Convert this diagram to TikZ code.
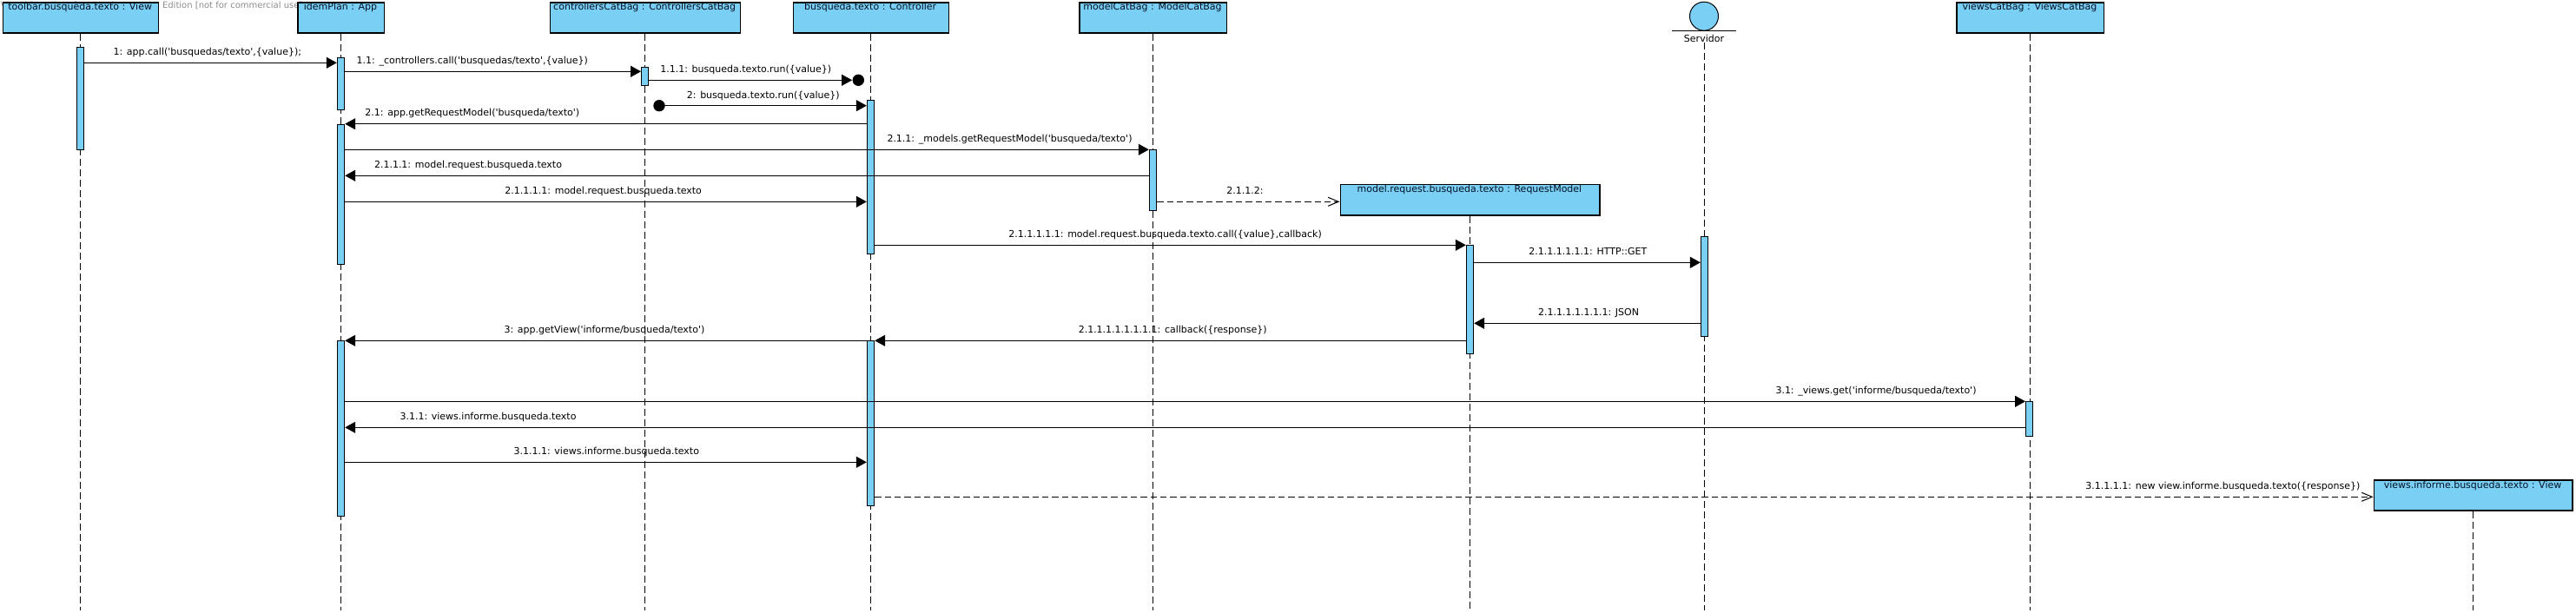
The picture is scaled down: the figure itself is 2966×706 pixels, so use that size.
\documentclass[tikz,border=0pt]{standalone}
\usepackage{fontspec}
\setmainfont{DejaVu Sans}[Ligatures=TeXOff]
\usetikzlibrary{arrows.meta}

\definecolor{objblue}{RGB}{122,207,245}
\definecolor{objink}{RGB}{5,18,36}
\definecolor{wmgray}{RGB}{140,140,140}

\tikzset{every picture/.style={line width=0.75pt}}
\tikzset{
  objbox/.style={draw, fill=objblue, line width=0.9pt, inner sep=0pt, anchor=north west,
    minimum width=#1*0.75pt, minimum height=35*0.75pt},
  actbar/.style={draw, fill=objblue, line width=0.75pt, inner sep=0pt, anchor=north,
    minimum width=8.4*0.75pt, minimum height=#1*0.75pt},
  objtext/.style={inner sep=0pt, anchor=base, text=objink, font=\fontsize{8.25}{10}\selectfont},
  msgtext/.style={inner sep=0pt, anchor=base, font=\fontsize{8.25}{10}\selectfont},
  wmtext/.style={inner sep=0pt, anchor=base west, text=wmgray, font=\fontsize{7.5}{9}\selectfont},
  lifeline/.style={dash pattern=on 6pt off 3pt},
  callmsg/.style={-{Triangle[length=9pt,width=9.75pt]}},
  replymsg/.style={dash pattern=on 5.5pt off 3pt, -{Straight Barb[length=9pt,width=7.5pt]}},
  blobdot/.style={circle, fill=black, inner sep=0pt, minimum size=13.4*0.75pt},
}

\begin{document}
\begin{tikzpicture}[x=0.75pt,y=0.75pt,yscale=-1,xscale=1]
\useasboundingbox (0,0) rectangle (2966,706);

% Text Node
\node[wmtext] (wm) at (0.5,10) {Visual Paradigm for UML Community Edition [not for commercial use]};

%Shape: Rectangle
\node[objbox=179] (tb) at (2.7,2.5) {};
\node[objbox=99.4] (app) at (342.3,2.5) {};
\node[objbox=219] (ccb) at (632.7,2.5) {};
\node[objbox=179] (ctl) at (912.7,2.5) {};
\node[objbox=169.4] (mcb) at (1242.3,2.5) {};
\node[objbox=169.4] (vcb) at (2252.3,2.5) {};
\node[objbox=298.8] (rqm) at (1542.5,212.3) {};
\node[objbox=228.9] (viw) at (2732.5,552.3) {};

%Shape: Circle
\node[circle, draw, fill=objblue, inner sep=0pt, minimum size=33*0.75pt] (srv) at (1962,18.7) {};
%Straight Lines
\draw (1925,35.3) -- (1999,35.3);

% Text Node
\node[objtext] (tbl) at (92.2,11.7) {toolbar.busqueda.texto : View};
% Text Node
\node[objtext] (appl) at (392,11.7) {idemPlan : App};
% Text Node
\node[objtext] (ccbl) at (742.2,11.7) {controllersCatBag : ControllersCatBag};
% Text Node
\node[objtext] (ctll) at (1002.2,11.7) {busqueda.texto : Controller};
% Text Node
\node[objtext] (mcbl) at (1327,11.7) {modelCatBag : ModelCatBag};
% Text Node
\node[objtext] (vcbl) at (2337,11.7) {viewsCatBag : ViewsCatBag};
% Text Node
\node[objtext] (rqml) at (1691.9,222) {model.request.busqueda.texto : RequestModel};
% Text Node
\node[objtext] (viwl) at (2847,562) {views.informe.busqueda.texto : View};
% Text Node
\node[msgtext] (srvl) at (1962,48.3) {Servidor};

\coordinate (bottom) at (0,703);

%Straight Lines
\draw[lifeline] (tb.south) -- (tb.south |- bottom);
\draw[lifeline] (app.south) -- (app.south |- bottom);
\draw[lifeline] (ccb.south) -- (ccb.south |- bottom);
\draw[lifeline] (ctl.south) -- (ctl.south |- bottom);
\draw[lifeline] (mcb.south) -- (mcb.south |- bottom);
\draw[lifeline] (srvl.south) -- (srvl.south |- bottom);
\draw[lifeline] (vcb.south) -- (vcb.south |- bottom);
\draw[lifeline] (rqm.south) -- (rqm.south |- bottom);
\draw[lifeline] (viw.south) -- (viw.south |- bottom);

%Shape: Rectangle
\node[actbar=118] (aT) at (92.5,54.3) {};
\node[actbar=60] (aA1) at (392.5,65.7) {};
\node[actbar=21] (aCC) at (742.7,77.3) {};
\node[actbar=177.3] (aC1) at (1002.5,115) {};
\node[actbar=161.6] (aA2) at (392.5,142.7) {};
\node[actbar=70] (aM) at (1327.5,172.3) {};
\node[actbar=115] (aS) at (1962.6,272.3) {};
\node[actbar=124.4] (aR) at (1692.5,282.3) {};
\node[actbar=190] (aC2) at (1002.5,392.3) {};
\node[actbar=202] (aA3) at (392.5,392.3) {};
\node[actbar=40] (aV) at (2336.7,462.3) {};

%Shape: Circle
\node[blobdot] (lost) at (988.3,92.3) {};
\node[blobdot] (found) at (759,121.7) {};

\coordinate (r1) at (0,72.3);
\coordinate (r2) at (0,82.3);
\coordinate (r3) at (0,92.3);
\coordinate (r4) at (0,121.7);
\coordinate (r5) at (0,142.7);
\coordinate (r6) at (0,172.3);
\coordinate (r7) at (0,202.3);
\coordinate (r8) at (0,232.3);
\coordinate (r9) at (0,282.3);
\coordinate (r10) at (0,302.3);
\coordinate (r11) at (0,372.3);
\coordinate (r12) at (0,392.3);
\coordinate (r13) at (0,462.3);
\coordinate (r14) at (0,492.3);
\coordinate (r15) at (0,532.3);
\coordinate (r16) at (0,572.3);

%Straight Lines
\draw[callmsg] (aT.east |- r1) -- (aA1.west |- r1);
\draw[callmsg] (aA1.east |- r2) -- (aCC.west |- r2);
\draw[callmsg] (aCC.east |- r3) -- (lost.west);
\draw[callmsg] (found.center) -- (aC1.west |- r4);
\draw[callmsg] (aC1.west |- r5) -- (aA2.east |- r5);
\draw[callmsg] (aA2.east |- r6) -- (aM.west |- r6);
\draw[callmsg] (aM.west |- r7) -- (aA2.east |- r7);
\draw[callmsg] (aA2.east |- r8) -- (aC1.west |- r8);
\draw[replymsg] (aM.east |- r8) -- (rqm.west |- r8);
\draw[callmsg] (aC1.east |- r9) -- (aR.west |- r9);
\draw[callmsg] (aR.east |- r10) -- (aS.west |- r10);
\draw[callmsg] (aS.west |- r11) -- (aR.east |- r11);
\draw[callmsg] (aR.west |- r12) -- (aC2.east |- r12);
\draw[callmsg] (aC2.west |- r12) -- (aA3.east |- r12);
\draw[callmsg] (aA3.east |- r13) -- (aV.west |- r13);
\draw[callmsg] (aV.west |- r14) -- (aA3.east |- r14);
\draw[callmsg] (aA3.east |- r15) -- (aC2.west |- r15);
\draw[replymsg] (aC2.east |- r16) -- (viw.west |- r16);

% Text Node
\draw (238.8,64) node[msgtext] (m1) {1: app.call('busquedas/texto',\{value\});};
% Text Node
\draw (543.8,73.3) node[msgtext] (m2) {1.1: \_controllers.call('busquedas/texto',\{value\})};
% Text Node
\draw (858.8,84) node[msgtext] (m3) {1.1.1: busqueda.texto.run(\{value\})};
% Text Node
\draw (878.8,113.3) node[msgtext] (m4) {2: busqueda.texto.run(\{value\})};
% Text Node
\draw (543.8,133.3) node[msgtext] (m5) {2.1: app.getRequestModel('busqueda/texto')};
% Text Node
\draw (1162.5,163.3) node[msgtext] (m6) {2.1.1: \_models.getRequestModel('busqueda/texto')};
% Text Node
\draw (539,193.3) node[msgtext] (m7) {2.1.1.1: model.request.busqueda.texto};
% Text Node
\draw (694.7,223.3) node[msgtext] (m8) {2.1.1.1.1: model.request.busqueda.texto};
% Text Node
\draw (1433.4,223.3) node[msgtext] (m9) {2.1.1.2:};
% Text Node
\draw (1341.6,273.3) node[msgtext] (m10) {2.1.1.1.1.1: model.request.busqueda.texto.call(\{value\},callback)};
% Text Node
\draw (1828.3,293.3) node[msgtext] (m11) {2.1.1.1.1.1.1: HTTP::GET};
% Text Node
\draw (1829,363.3) node[msgtext] (m12) {2.1.1.1.1.1.1.1: JSON};
% Text Node
\draw (1350.2,383.3) node[msgtext] (m13) {2.1.1.1.1.1.1.1.1: callback(\{response\})};
% Text Node
\draw (695.9,383.3) node[msgtext] (m14) {3: app.getView('informe/busqueda/texto')};
% Text Node
\draw (2160,453) node[msgtext] (m15) {3.1: \_views.get('informe/busqueda/texto')};
% Text Node
\draw (562,483.3) node[msgtext] (m16) {3.1.1: views.informe.busqueda.texto};
% Text Node
\draw (698.3,523.3) node[msgtext] (m17) {3.1.1.1: views.informe.busqueda.texto};
% Text Node
\draw (2559.4,563.3) node[msgtext] (m18) {3.1.1.1.1: new view.informe.busqueda.texto(\{response\})};

\end{tikzpicture}
\end{document}
